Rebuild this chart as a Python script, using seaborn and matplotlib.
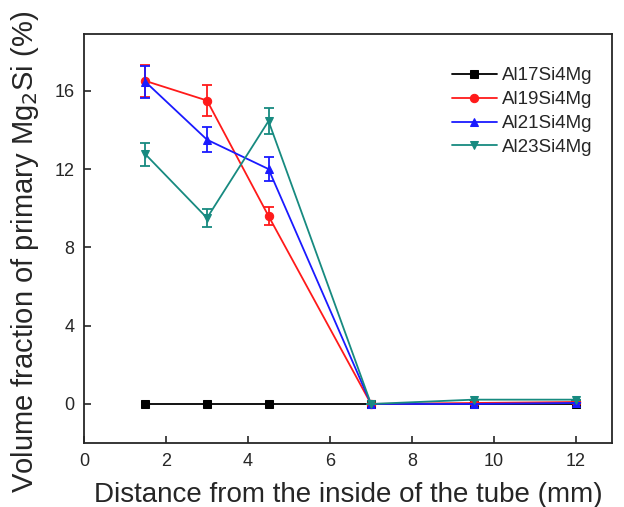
import numpy as np
import pandas as pd
import matplotlib
matplotlib.use("Agg")
import matplotlib.pyplot as plt
import seaborn as sns

# data
distance = [1.5, 3.0, 4.5, 7.0, 9.5, 12.0]
al17 = [0.0, 0.0, 0.0, 0.0, 0.0, 0.0]
al19 = [16.5, 15.5, 9.6, 0.0, 0.05, 0.1]
al21 = [16.45, 13.5, 12.0, 0.0, 0.0, 0.05]
al23 = [12.75, 9.5, 14.45, 0.0, 0.22, 0.22]
err19 = [0.8, 0.78, 0.46, 0.0, 0.0, 0.0]
err21 = [0.83, 0.64, 0.62, 0.0, 0.0, 0.0]
err23 = [0.6, 0.44, 0.68, 0.0, 0.0, 0.0]
names = ["Al17Si4Mg", "Al19Si4Mg", "Al21Si4Mg", "Al23Si4Mg"]

colors = ["#000000", "#ff1a1a", "#1a1aff", "#178a80"]
markers = ["s", "o", "^", "v"]

df = pd.DataFrame({
    "x": distance * 4,
    "y": al17 + al19 + al21 + al23,
    "err": [0.0] * 6 + err19 + err21 + err23,
    "alloy": [n for n in names for _ in distance],
})

sns.set_theme(style="ticks")
plt.rcParams["font.family"] = ["Liberation Sans", "DejaVu Sans"]

fig = plt.figure(figsize=(6.24, 5.07), dpi=100)
ax = fig.add_axes([0.1346, 0.126, 0.8464, 0.807])

for name, c, m in zip(names, colors, markers):
    d = df[df["alloy"] == name]
    sns.lineplot(data=d, x="x", y="y", ax=ax, color=c, marker=m,
                 markersize=6, markeredgecolor=c, linewidth=1.3,
                 label=name, errorbar=None)
    if d["err"].sum() > 0:
        ax.errorbar(d["x"], d["y"], yerr=d["err"], fmt="none", ecolor=c,
                    elinewidth=1.3, capsize=3.5, capthick=1.3)

ax.set_xlim(0, 12.88)
ax.set_ylim(-2, 18.9)
ax.set_xticks([0, 2, 4, 6, 8, 10, 12])
ax.set_yticks([0, 4, 8, 12, 16])
ax.tick_params(direction="in", length=5, width=1.2, labelsize=13, pad=7)
for s in ax.spines.values():
    s.set_linewidth(1.3)

ax.set_xlabel("Distance from the inside of the tube (mm)", fontsize=20, labelpad=9)
ax.set_ylabel("Volume fraction of primary Mg$_2$Si (%)", fontsize=21)
ax.yaxis.set_label_coords(-0.082, 0.468)

ax.legend(loc="upper right", bbox_to_anchor=(0.995, 0.96), frameon=False,
          fontsize=13.5, handlelength=2.35, labelspacing=0.36, handletextpad=0.3)

fig.savefig("out.png", dpi=100)
